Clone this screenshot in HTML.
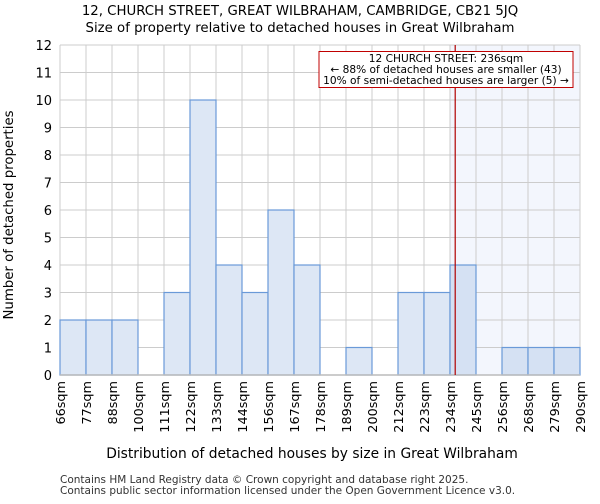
<!DOCTYPE html>
<html><head><meta charset="utf-8"><style>
body{margin:0;background:#fff;font-family:"DejaVu Sans","Liberation Sans",sans-serif;}
</style></head><body>
<svg width="600" height="500" xmlns="http://www.w3.org/2000/svg" id="svg" font-family="DejaVu Sans, Liberation Sans, sans-serif">
<text x="300" y="15" text-anchor="middle" font-size="13.3">12, CHURCH STREET, GREAT WILBRAHAM, CAMBRIDGE, CB21 5JQ</text>
<text x="300" y="32" text-anchor="middle" font-size="13.3">Size of property relative to detached houses in Great Wilbraham</text>
<g id="plot"></g>
<text x="312" y="458" text-anchor="middle" font-size="13.8">Distribution of detached houses by size in Great Wilbraham</text>
<text transform="translate(13,215) rotate(-90)" text-anchor="middle" font-size="13.3">Number of detached properties</text>
<text x="60" y="483" font-size="10.5" fill="#333">Contains HM Land Registry data © Crown copyright and database right 2025.</text>
<text x="60" y="494" font-size="10.5" fill="#333">Contains public sector information licensed under the Open Government Licence v3.0.</text>
</svg>
<script>
const categories=["66sqm","77sqm","88sqm","100sqm","111sqm","122sqm","133sqm","144sqm","156sqm","167sqm","178sqm","189sqm","200sqm","212sqm","223sqm","234sqm","245sqm","256sqm","268sqm","279sqm","290sqm"];
const counts=[2,2,2,0,3,10,4,3,6,4,0,1,0,3,3,4,0,1,1,1];
const yTicks=[0,1,2,3,4,5,6,7,8,9,10,11,12];
const highlightStartBin=15;
const propertyBinPos=15.2;
const x0=60,x1=580,y0=375,y1=45,yMax=12;
const bw=(x1-x0)/counts.length;
const xs=i=>x0+i*bw;
const ys=v=>y0-(y0-y1)*v/yMax;
const NS="http://www.w3.org/2000/svg";
const g=document.getElementById('plot');
function mk(t,a){const e=document.createElementNS(NS,t);for(const k in a)e.setAttribute(k,a[k]);g.appendChild(e);return e;}
let e;
e=mk('rect',{x:xs(highlightStartBin),y:y1,width:x1-xs(highlightStartBin),height:y0-y1,fill:'#f3f6fd'});


yTicks.forEach(v=>{
 e=mk('line',{x1:x0,x2:x1,y1:ys(v),y2:ys(v),stroke:'#cccccc','stroke-width':1});
 
 
 e=mk('text',{x:x0-8,y:ys(v)+5,'text-anchor':'end','font-size':13});
 e.textContent=v;
 
 
});
categories.forEach((c,i)=>{
 e=mk('line',{x1:xs(i),x2:xs(i),y1:y1,y2:y0,stroke:'#cccccc','stroke-width':1});
 
 
 e=mk('text',{transform:`translate(${xs(i)+5},${y0+6}) rotate(-90)`,'text-anchor':'end','font-size':12.8});
 e.textContent=c;
 
 
});
counts.forEach((v,i)=>{
 if(v<=0)return;
 e=mk('rect',{x:xs(i),y:ys(v),width:bw,height:y0-ys(v),fill:i>=highlightStartBin?'#d5e1f3':'#dde7f5',stroke:'#6a9ad8','stroke-width':1.2});
 
 
});
e=mk('line',{x1:x0,x2:x1,y1:y0,y2:y0,stroke:'#bbb','stroke-width':1.5});


e=mk('line',{x1:xs(propertyBinPos),x2:xs(propertyBinPos),y1:y1,y2:y0,stroke:'#b00000','stroke-width':1.2});


e=mk('rect',{x:319,y:51.5,width:254,height:36,fill:'#fff',stroke:'#c00000','stroke-width':1});


["12 CHURCH STREET: 236sqm","← 88% of detached houses are smaller (43)","10% of semi-detached houses are larger (5) →"].forEach((t,k)=>{
 e=mk('text',{x:446,y:62+k*11,'text-anchor':'middle','font-size':10.6});
 e.textContent=t;
 
 
});
</script>
</body></html>
